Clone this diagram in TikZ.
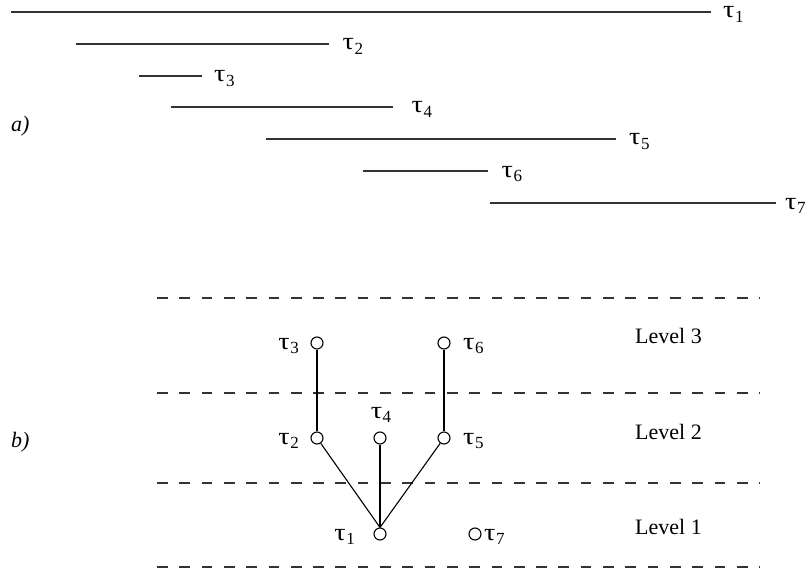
\documentclass[tikz,border=0pt]{standalone}
\usepackage{graphicx}
\usepackage{fontspec}
\setmainfont{Liberation Serif}
% task name: a broad tau with a lowered index
\newcommand\tsk[1]{\scalebox{1.28}[1.1]{τ}\kern0.5pt\raisebox{-4.5pt}{\fontsize{17}{20}\selectfont #1}}
\begin{document}
\begin{tikzpicture}[x=1pt,y=-1pt,
  font=\fontsize{22}{26}\selectfont,
  interval/.style={line width=1.3pt, draw=black!80},
  tlab/.style={anchor=base west, inner sep=0pt},
  vert/.style={circle, draw, line width=1.1pt, minimum size=12pt, inner sep=0pt},
  edge/.style={line width=1.1pt},
  levelline/.style={line width=1.2pt, draw=black!80, dash pattern=on 10.7pt off 11.6pt},
  lvl/.style={anchor=west, inner sep=0pt},
  part/.style={anchor=west, inner sep=0pt, font=\fontsize{22}{26}\selectfont\itshape}]
\useasboundingbox (0,0) rectangle (808,575);

% ---- a) intervals of the tasks
\foreach \k/\xs/\xe/\y in {1/11/711/12, 2/75.5/329/44, 3/139/202/76, 4/171/393/107,
                           5/266/616/139, 6/363/488/171, 7/489.5/776/203}{
  \coordinate (s\k) at (\xs,\y);
  \coordinate (e\k) at (\xe,\y);
  \draw[interval] (s\k) -- (e\k);
}
\node[tlab] (l1) at (723,18) {\tsk{1}};
\node[tlab] (l2) at (342.5,50) {\tsk{2}};
\node[tlab] (l3) at (214,82) {\tsk{3}};
\node[tlab] (l4) at (411.5,113) {\tsk{4}};
\node[tlab] (l5) at (629,145) {\tsk{5}};
\node[tlab] (l6) at (501.5,177) {\tsk{6}};
\node[tlab] (l7) at (785,209) {\tsk{7}};
\node[part] (pa) at (11,126) {a)};

% ---- b) level boundaries
\foreach \i/\y in {1/298, 2/393, 3/483, 4/567}{
  \coordinate (dl\i) at (157,\y);
  \coordinate (dr\i) at (760,\y);
  \draw[levelline] (dl\i) -- (dr\i);
}
\node[lvl] (L3) at (635,336) {Level 3};
\node[lvl] (L2) at (635,432) {Level 2};
\node[lvl] (L1) at (635,527) {Level 1};
\node[part] (pb) at (11,442) {b)};

% ---- b) tree of the tasks
\node[vert] (t3) at (317,343) {};
\node[vert] (t6) at (444,343) {};
\node[vert] (t2) at (317,438) {};
\node[vert] (t4) at (380,438) {};
\node[vert] (t5) at (444,438) {};
\node[vert] (t1) at (380,534) {};
\node[vert] (t7) at (475,534) {};

\draw[edge] (t3) -- (t2);
\draw[edge] (t6) -- (t5);
\draw[edge] (t2) -- (t1.north);
\draw[edge] (t4) -- (t1.north);
\draw[edge] (t5) -- (t1.north);

\node[tlab, anchor=base east] (n3) at (299,349) {\tsk{3}};
\node[tlab] (n6) at (463,349) {\tsk{6}};
\node[tlab, anchor=base east] (n2) at (299,444) {\tsk{2}};
\node[tlab, anchor=base] (n4) at (381,418) {\tsk{4}};
\node[tlab] (n5) at (463,444) {\tsk{5}};
\node[tlab, anchor=base east] (n1) at (355,540) {\tsk{1}};
\node[tlab] (n7) at (484,540) {\tsk{7}};
\end{tikzpicture}
\end{document}
